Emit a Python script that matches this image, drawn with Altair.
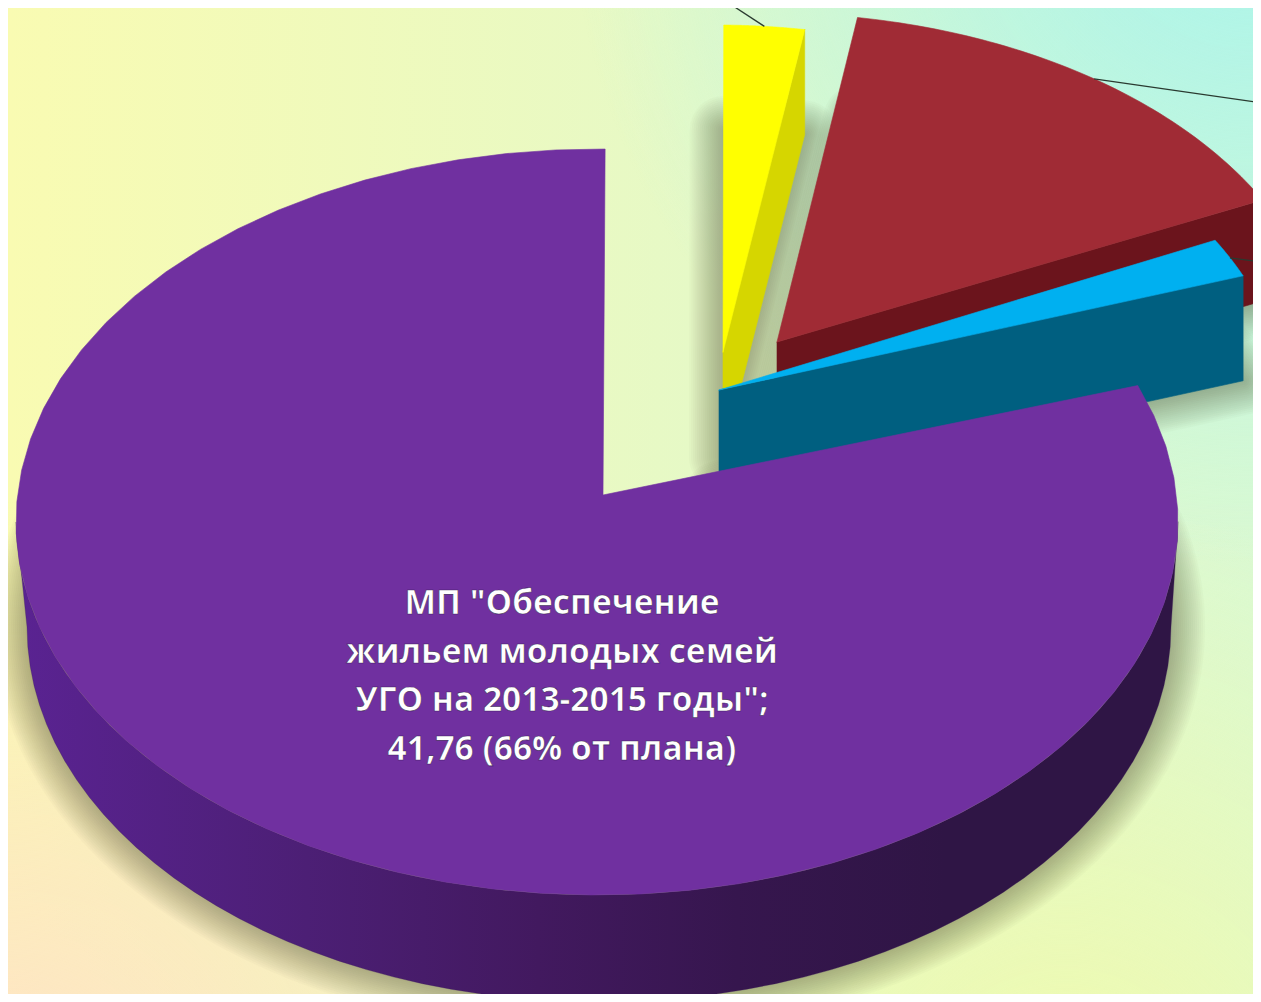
import math
import altair as alt
import pandas as pd

# values (share of the pie)
names = ["yellow", "red", "blue", "purple"]
values = [1.2, 7.55, 0.93, 41.76]
label_lines = ['МП "Обеспечение', "жильем молодых семей", 'УГО на 2013-2015 годы";', "41,76 (66% от плана)"]

W, H = 1245, 986
X0, Y0, X1, Y1 = 8, 8, 8 + W, 8 + H
sx = alt.Scale(domain=[X0, X1], nice=False, zero=False)
sy = alt.Scale(domain=[Y1, Y0], nice=False, zero=False)

START = 0.8
total = sum(values)
spans = {}
cur = START
for n, v in zip(names, values):
    d = v / total * 360
    spans[n] = (cur, cur + d)
    cur += d

GEOM = {
    "yellow": dict(c=(716, 380), a=555, b=355, apex=(723, 352), depth=105),
    "red": dict(c=(768, 365), a=560, b=352, apex=(777, 342), depth=101),
    "blue": dict(c=(694, 402), a=590, b=345, apex=(719, 390), depth=105),
    "purple": dict(c=(597, 522), a=581, b=373, apex=(603, 495), depth=105),
}
BASE_PURPLE = dict(c=(599, 627), a=572, b=375)
TOPC = {"yellow": "#FFFF00", "red": "#A02B35", "blue": "#00B0F0", "purple": "#7030A0"}
WALLC = {"yellow": "#D6D600", "red": "#6B141C", "blue": "#005F80"}


def arc(g, t0, t1, n=60, dy=0.0):
    pts = []
    for i in range(n + 1):
        t = math.radians(t0 + (t1 - t0) * i / n)
        pts.append((g["c"][0] + g["a"] * math.sin(t), g["c"][1] - g["b"] * math.cos(t) + dy))
    return pts


def top_face(n):
    g = GEOM[n]
    return [g["apex"]] + arc(g, *spans[n])


def cut_wall(n, end):
    g = GEOM[n]
    t = spans[n][end]
    rim = arc(g, t, t, 1)[0]
    ax, ay = g["apex"]
    d = g["depth"]
    return [rim, (ax, ay), (ax, ay + d), (rim[0], rim[1] + d)]


def base_face(n):
    g = GEOM[n]
    if n == "purple":
        return arc(BASE_PURPLE, 75, 285, 120)
    d = g["depth"]
    return [(x, y + d) for x, y in top_face(n)]


def poly(pts, fill, stroke=None, sw=0.6, opacity=1.0):
    df = pd.DataFrame({"x": [p[0] for p in pts] + [pts[0][0]],
                       "y": [p[1] for p in pts] + [pts[0][1]],
                       "i": list(range(len(pts) + 1))})
    return alt.Chart(df).mark_line(
        fill=fill, stroke=stroke if stroke else fill, strokeWidth=sw,
        opacity=opacity, clip=True, strokeJoin="round", strokeCap="round",
    ).encode(x=alt.X("x:Q", scale=sx, axis=None), y=alt.Y("y:Q", scale=sy, axis=None), order="i:Q")


def bg(fill):
    return alt.Chart(pd.DataFrame({"k": [0]})).mark_rect(fill=fill).encode(
        x=alt.value(0), x2=alt.value(W), y=alt.value(0), y2=alt.value(H))


def radial(col, cx, cy, r):
    return alt.RadialGradient(
        gradient="radial", x1=cx, y1=cy, r1=0, x2=cx, y2=cy, r2=r,
        stops=[alt.GradientStop(color=col + "ff", offset=0), alt.GradientStop(color=col + "00", offset=1)])


layers = [
    bg(alt.LinearGradient(gradient="linear", x1=0, y1=0, x2=1, y2=0, stops=[
        alt.GradientStop(color="#F9FBB2", offset=0),
        alt.GradientStop(color="#E6F9C6", offset=0.55),
        alt.GradientStop(color="#DAF9D2", offset=1)])),
    bg(radial("#A8F4EC", 1, 0, 0.55)),
    bg(radial("#FFE2C6", 0, 1, 0.5)),
    bg(radial("#F0FAAE", 0.85, 1, 0.5)),
]

# soft shadows under the base of each slice
for w in range(4, 72, 4):
    for n in names:
        layers.append(poly(base_face(n), "#3A3A1C", sw=w, opacity=0.018))

for n in ["yellow", "red"]:
    layers.append(poly(cut_wall(n, 1), WALLC[n]))
    layers.append(poly(top_face(n), TOPC[n]))
layers.append(poly(cut_wall("blue", 1), WALLC["blue"]))
layers.append(poly(top_face("blue"), TOPC["blue"]))

# leader lines from the middle of each slice's rim
LEAD_END = {"yellow": (724, 0), "red": (1270, 104), "blue": (1270, 263)}
for n, e in LEAD_END.items():
    t = sum(spans[n]) / 2
    p = arc(GEOM[n], t, t, 1)[0]
    df = pd.DataFrame({"x": [p[0], e[0]], "y": [p[1], e[1]], "i": [0, 1]})
    layers.append(alt.Chart(df).mark_line(color="#2A3A30", strokeWidth=1.3, clip=True).encode(
        x=alt.X("x:Q", scale=sx, axis=None), y=alt.Y("y:Q", scale=sy, axis=None), order="i:Q"))

# purple outer wall with a left-to-right shade
gp = GEOM["purple"]
wall = arc(gp, 90, 270) + arc(BASE_PURPLE, 270, 90)
layers.append(poly(wall, alt.LinearGradient(gradient="linear", x1=0, y1=0, x2=1, y2=0, stops=[
    alt.GradientStop(color="#5A2392", offset=0),
    alt.GradientStop(color="#4C1F75", offset=0.25),
    alt.GradientStop(color="#42195F", offset=0.45),
    alt.GradientStop(color="#36164E", offset=0.62),
    alt.GradientStop(color="#2F1545", offset=0.8),
    alt.GradientStop(color="#2F1545", offset=1)]), stroke="#3A1A58", sw=0.3))
layers.append(poly(top_face("purple"), TOPC["purple"]))

tdf = pd.DataFrame({"t": label_lines, "x": [562] * 4, "y": [604 + 48.7 * i for i in range(4)]})
layers.append(alt.Chart(tdf).mark_text(
    font="Open Sans", fontSize=33.5, fontWeight=700, color="#FFFFFF",
    stroke="#2A1545", strokeWidth=0.7, strokeOpacity=0.75,
    baseline="middle", align="center",
).encode(x=alt.X("x:Q", scale=sx, axis=None), y=alt.Y("y:Q", scale=sy, axis=None), text="t:N"))

chart = alt.layer(*layers).properties(
    width=W, height=H, padding=0, autosize=alt.AutoSizeParams(type="none"),
).configure_view(stroke=None)
chart.save("out.html", embed_options={"renderer": "svg", "actions": False})
